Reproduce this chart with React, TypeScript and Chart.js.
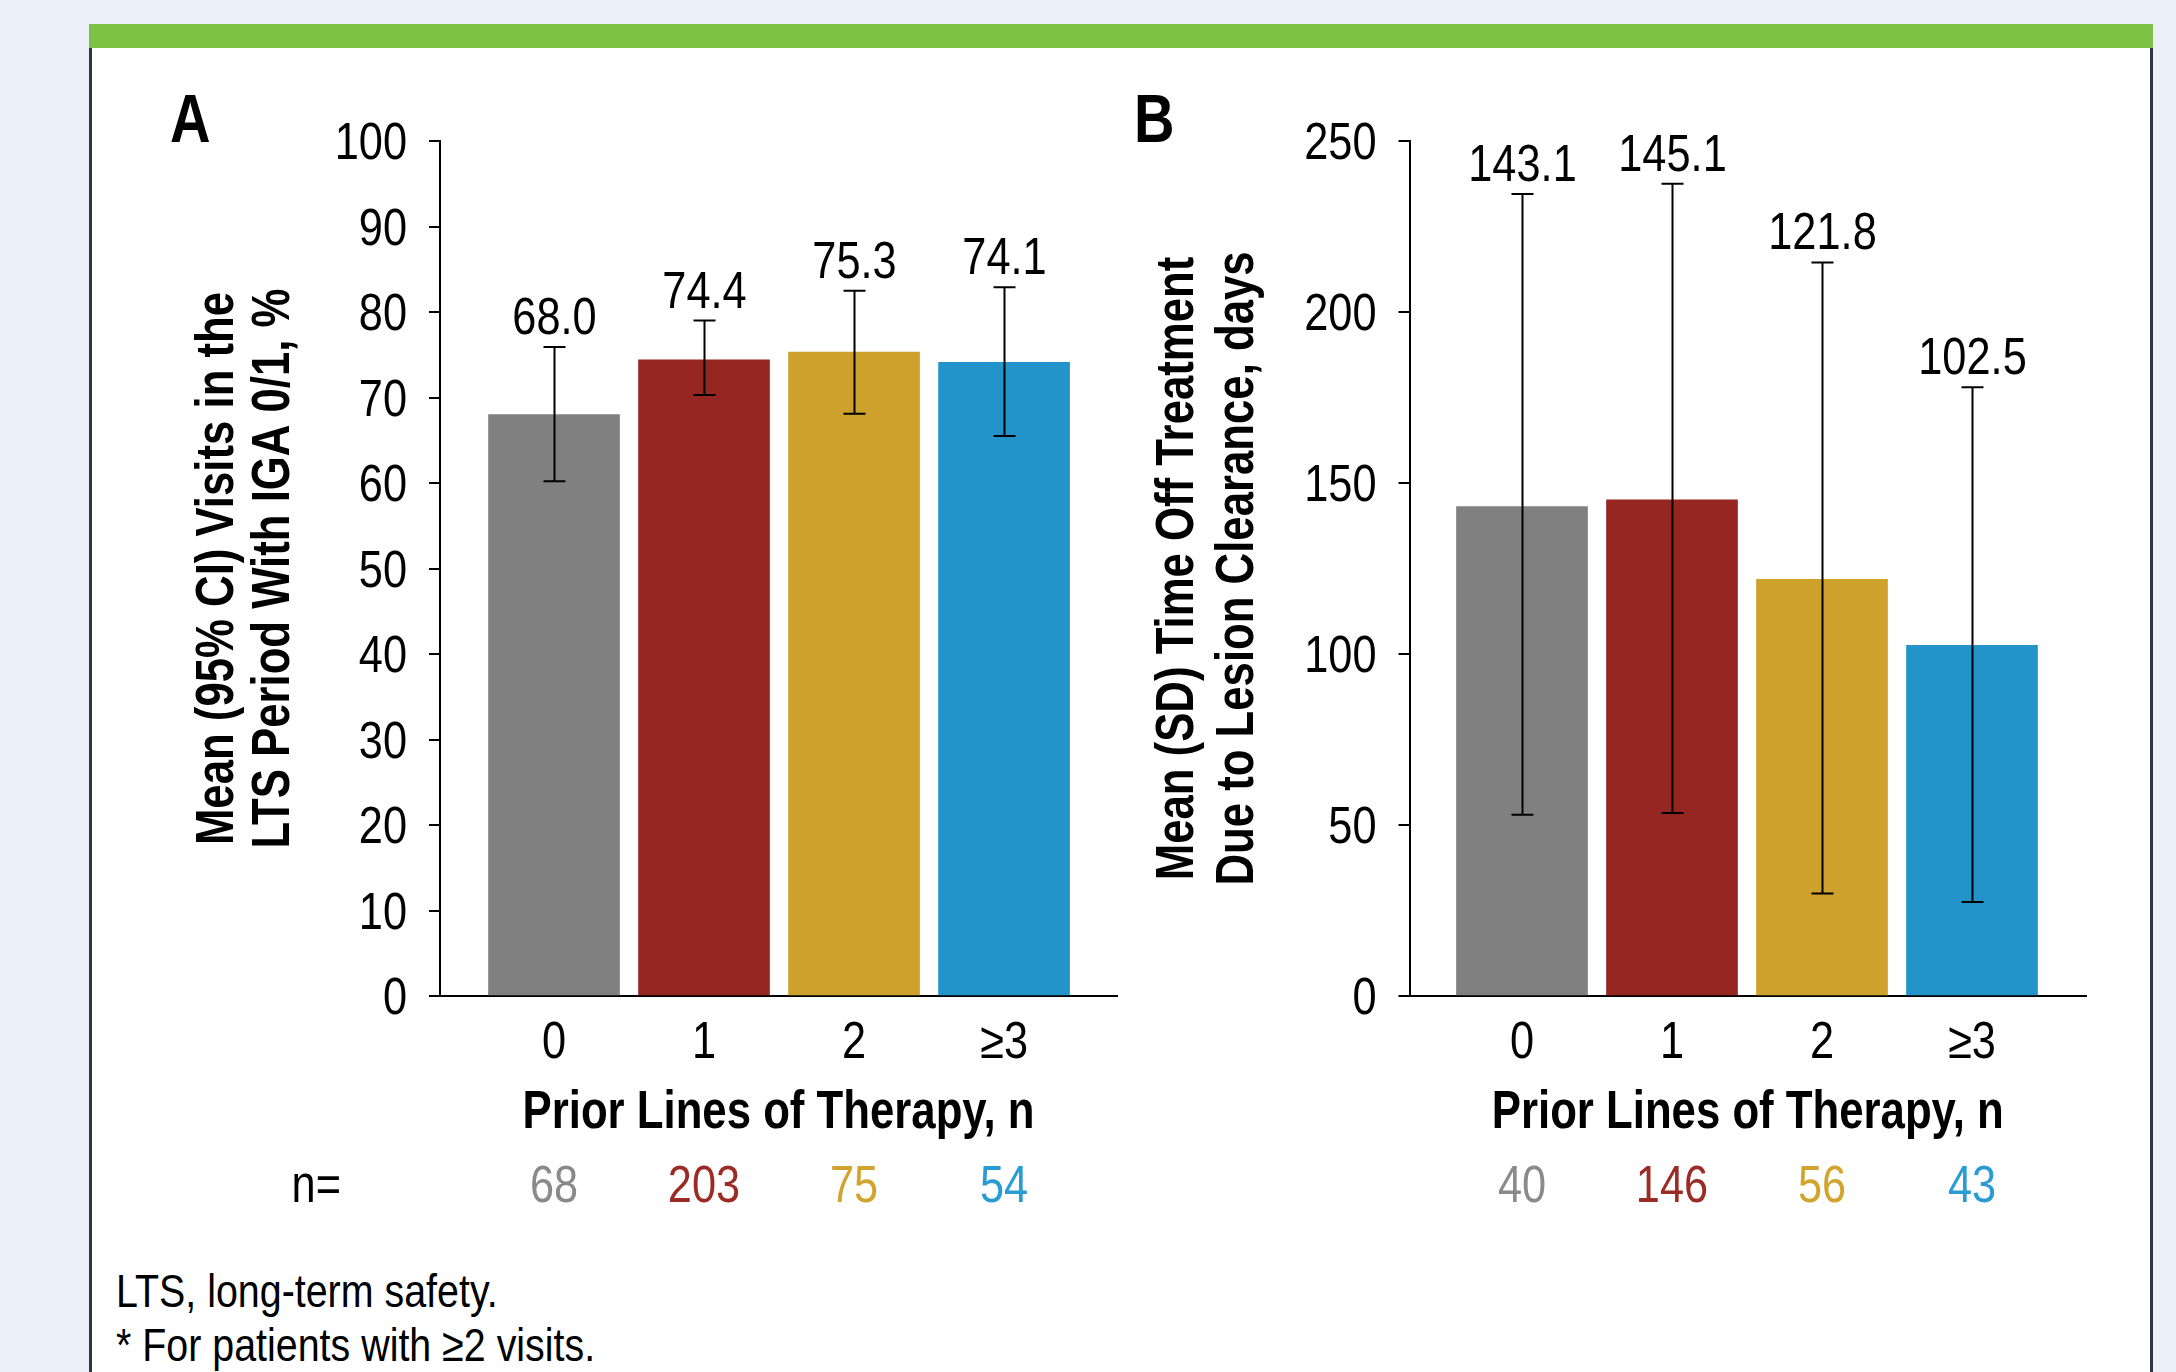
import React, { useEffect, useRef } from 'react';
import { Chart, registerables } from 'chart.js';

Chart.register(...registerables);

// ---------------- data ----------------
const categories = ['0', '1', '2', '≥3'];
const barColors = ['#808080', '#952621', '#CDA12B', '#2394CA'];
const nColors = ['#8a8a8a', '#9c2b25', '#d2a42d', '#2a9bd3'];

const meanA = [68.0, 74.4, 75.3, 74.1];
const ciUpperA = [75.9, 79.0, 82.5, 82.9];
const ciLowerA = [60.2, 70.3, 68.1, 65.5];
const nA = [68, 203, 75, 54];

const meanB = [143.1, 145.1, 121.8, 102.5];
const sdUpperB = [234.5, 237.5, 214.5, 178.0];
const sdLowerB = [53.0, 53.5, 30.0, 27.5];
const nB = [40, 146, 56, 43];

const titleA = ['Mean (95% CI) Visits in the', 'LTS Period With IGA 0/1, %'];
const titleB = ['Mean (SD) Time Off Treatment', 'Due to Lesion Clearance, days'];
const xTitle = 'Prior Lines of Therapy, n';
const footnotes = ['LTS, long-term safety.', '* For patients with ≥2 visits.'];

// ---------------- font ----------------
const FAM = '"Liberation Sans", Arial, sans-serif';
const NARROW_REG = 0.85;
const NARROW_BOLD = 0.825;
const NARROW_NOTE = 0.838;

// Render canvas text horizontally condensed (Arial Narrow look) via fillText's maxWidth.
function condense(ctx: CanvasRenderingContext2D) {
  const orig = ctx.fillText.bind(ctx);
  (ctx as any).fillText = (text: string, x: number, y: number, maxWidth?: number) => {
    const f = /bold|700/.test(ctx.font) ? NARROW_BOLD : NARROW_REG;
    const w = ctx.measureText(text).width * f;
    const mw = maxWidth !== undefined && maxWidth !== null ? Math.min(maxWidth, w) : w;
    orig(text, x, y, Math.max(1, mw));
  };
}

type PanelCfg = {
  letter: string;
  means: number[];
  upper: number[];
  lower: number[];
  ns: number[];
  showNLabel: boolean;
  yMax: number;
  yStep: number;
  title: string[];
  titleLineHeight: number;
  titlePad: number;
  yWidth: number;
  padRight: number;
  xMin: number;
  xMax: number;
  letterX: number;
  nLabelX: number;
};

const H = 1180;

function makeChart(canvas: HTMLCanvasElement, cfg: PanelCfg) {
  const overlay = {
    id: 'overlay',
    afterDatasetsDraw(chart: any) {
      const { ctx } = chart;
      const x = chart.scales.x;
      const y = chart.scales.y;
      ctx.save();
      ctx.strokeStyle = '#000';
      ctx.lineWidth = 2;
      const cap = 22;
      cfg.means.forEach((m, i) => {
        const px = Math.round(x.getPixelForValue(i)) + 0.5;
        const yt = y.getPixelForValue(cfg.upper[i]);
        const yb = y.getPixelForValue(cfg.lower[i]);
        ctx.beginPath();
        ctx.moveTo(px, yt);
        ctx.lineTo(px, yb);
        ctx.moveTo(px - cap / 2, yt);
        ctx.lineTo(px + cap / 2, yt);
        ctx.moveTo(px - cap / 2, yb);
        ctx.lineTo(px + cap / 2, yb);
        ctx.stroke();
        ctx.fillStyle = '#000';
        ctx.font = `51px ${FAM}`;
        ctx.textAlign = 'center';
        ctx.textBaseline = 'alphabetic';
        ctx.fillText(m.toFixed(1), px, yt - 13);
      });
      // n row
      const nY = x.bottom - 38;
      ctx.font = `51px ${FAM}`;
      ctx.textBaseline = 'alphabetic';
      ctx.textAlign = 'center';
      cfg.ns.forEach((n, i) => {
        ctx.fillStyle = nColors[i];
        ctx.fillText(String(n), x.getPixelForValue(i), nY);
      });
      if (cfg.showNLabel) {
        ctx.fillStyle = '#000';
        ctx.textAlign = 'right';
        ctx.fillText('n=', cfg.nLabelX, nY);
      }
      // panel letter
      ctx.fillStyle = '#000';
      ctx.textAlign = 'left';
      ctx.font = `bold 68px ${FAM}`;
      ctx.fillText(cfg.letter, cfg.letterX, 82);
      ctx.restore();
    },
  };

  const ctx2d = canvas.getContext('2d') as CanvasRenderingContext2D;
  condense(ctx2d);

  return new Chart(ctx2d, {
    type: 'bar',
    data: {
      datasets: [
        {
          data: cfg.means.map((v, i) => ({ x: i, y: v })),
          backgroundColor: barColors,
          borderWidth: 0,
          barThickness: 131,
        } as any,
      ],
    },
    options: {
      responsive: false,
      animation: false,
      devicePixelRatio: 1,
      layout: { padding: { left: 0, right: cfg.padRight, top: 81, bottom: 0 } },
      plugins: { legend: { display: false }, tooltip: { enabled: false }, title: { display: false } },
      scales: {
        x: {
          type: 'linear',
          min: cfg.xMin,
          max: cfg.xMax,
          offset: false,
          afterBuildTicks: (s: any) => {
            s.ticks = categories.map((_, i) => ({ value: i }));
          },
          afterFit: (s: any) => {
            s.height = 244;
          },
          ticks: {
            color: '#000',
            font: { family: FAM, size: 51 },
            padding: 17,
            maxRotation: 0,
            autoSkip: false,
            callback: (v: any) => categories[v as number] ?? '',
          },
          grid: { display: false, drawTicks: false },
          border: { display: true, color: '#000', width: 2 },
          title: {
            display: true,
            text: xTitle,
            color: '#000',
            font: { family: FAM, size: 53, weight: 'bold', lineHeight: 1.2 },
            padding: { top: 0, bottom: 95 },
          },
        },
        y: {
          type: 'linear',
          min: 0,
          max: cfg.yMax,
          afterFit: (s: any) => {
            s.width = cfg.yWidth;
          },
          ticks: {
            stepSize: cfg.yStep,
            color: '#000',
            font: { family: FAM, size: 51 },
            padding: 22,
            labelOffset: 4,
          },
          grid: {
            display: true,
            drawOnChartArea: false,
            drawTicks: true,
            tickLength: 11,
            color: '#000',
            lineWidth: 2,
          },
          border: { display: true, color: '#000', width: 2 },
          title: {
            display: true,
            text: cfg.title,
            color: '#000',
            font: { family: FAM, size: 53, weight: 'bold', lineHeight: cfg.titleLineHeight },
            padding: { top: cfg.titlePad, bottom: 0 },
          },
        },
      },
    } as any,
    plugins: [overlay],
  });
}

const cfgA: PanelCfg = {
  letter: 'A',
  means: meanA,
  upper: ciUpperA,
  lower: ciLowerA,
  ns: nA,
  showNLabel: true,
  yMax: 100,
  yStep: 10,
  title: titleA,
  titleLineHeight: 1.06,
  titlePad: 40,
  yWidth: 290,
  padRight: 13,
  xMin: -0.76,
  xMax: 3.753,
  letterX: 20,
  nLabelX: 191,
};

const cfgB: PanelCfg = {
  letter: 'B',
  means: meanB,
  upper: sdUpperB,
  lower: sdLowerB,
  ns: nB,
  showNLabel: false,
  yMax: 250,
  yStep: 50,
  title: titleB,
  titleLineHeight: 1.132,
  titlePad: 18.6,
  yWidth: 279.5,
  padRight: 44,
  xMin: -0.75,
  xMax: 3.76,
  letterX: 4,
  nLabelX: 0,
};

function Panel({ cfg, left, width }: { cfg: PanelCfg; left: number; width: number }) {
  const ref = useRef<HTMLCanvasElement | null>(null);
  useEffect(() => {
    if (!ref.current) return;
    const chart = makeChart(ref.current, cfg);
    return () => chart.destroy();
  }, [cfg]);
  return (
    <canvas
      ref={ref}
      width={width}
      height={H}
      style={{ position: 'absolute', left, top: 60, width, height: H }}
    />
  );
}

export default function App() {
  return (
    <div
      style={{
        position: 'fixed',
        left: 0,
        top: 0,
        width: 2176,
        height: 1372,
        background: '#ECF0F8',
        overflow: 'hidden',
      }}
    >
      <div style={{ position: 'absolute', left: 89, top: 24, width: 2064, height: 24, background: '#7DC242' }} />
      <div
        style={{
          position: 'absolute',
          left: 89,
          top: 48,
          width: 2064,
          height: 1340,
          background: '#ffffff',
          borderLeft: '3px solid #2C3849',
          borderRight: '3px solid #2C3849',
          boxSizing: 'border-box',
        }}
      />
      <Panel cfg={cfgA} left={150} width={980} />
      <Panel cfg={cfgB} left={1130} width={1000} />
      <div
        style={{
          position: 'absolute',
          left: 116,
          top: 1264,
          fontFamily: FAM,
          fontSize: 47,
          lineHeight: '54px',
          color: '#000',
          whiteSpace: 'nowrap',
          transform: `scaleX(${NARROW_NOTE})`,
          transformOrigin: '0 0',
        }}
      >
        {footnotes.map((t, i) => (
          <div key={i}>{t}</div>
        ))}
      </div>
    </div>
  );
}
